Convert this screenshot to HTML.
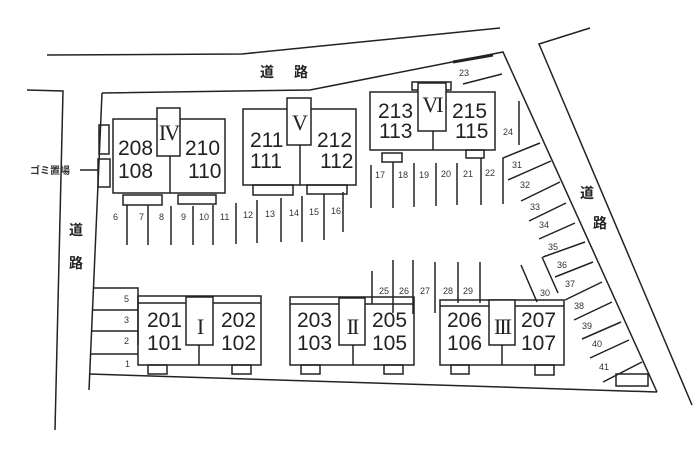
<!DOCTYPE html>
<html><head><meta charset="utf-8"><style>
html,body{margin:0;padding:0;background:#fff;}
svg{display:block;}
.n{font-family:"Liberation Sans",sans-serif;font-size:21px;fill:#222;}
.s{font-family:"Liberation Sans",sans-serif;font-size:9px;fill:#333;}
.r{font-family:"Liberation Serif",serif;font-size:22px;fill:#222;letter-spacing:-2px;}
.j{font-family:"Liberation Sans","Noto Sans CJK JP",sans-serif;font-size:14px;font-weight:bold;fill:#222;}
</style></head><body>
<svg width="700" height="452" viewBox="0 0 700 452" xmlns="http://www.w3.org/2000/svg">
<g fill="none" stroke="#222" stroke-width="1.5">
<polyline points="47,55 242,54 500,28"/>
<polyline points="102,93 310,90 503,52 657,392"/>
<polyline points="27,90 63,91 55,430"/>
<line x1="102" y1="93" x2="89" y2="390"/>
<polyline points="590,28 539,44 692,405"/>
<line x1="89" y1="374" x2="657" y2="392"/>
<line x1="453" y1="62" x2="493" y2="55" stroke-width="3"/>
<rect x="113" y="119" width="112" height="74"/>
<rect x="157" y="108" width="23" height="48" fill="#fff"/>
<line x1="170" y1="156" x2="170" y2="193"/>
<rect x="123" y="195" width="39" height="10"/>
<rect x="178" y="195" width="38" height="9"/>
<rect x="99" y="125" width="10" height="29"/>
<rect x="98" y="159" width="12" height="28"/>
<line x1="80" y1="170" x2="98" y2="170"/>
<rect x="243" y="109" width="113" height="76"/>
<line x1="300" y1="145" x2="300" y2="185"/>
<rect x="287" y="98" width="24" height="47" fill="#fff"/>
<rect x="253" y="185" width="40" height="10"/>
<rect x="307" y="185" width="40" height="9"/>
<rect x="370" y="92" width="125" height="58"/>
<rect x="412" y="82" width="39" height="8"/>
<rect x="418" y="83" width="28" height="48" fill="#fff"/>
<line x1="433" y1="131" x2="433" y2="150"/>
<rect x="382" y="153" width="20" height="9"/>
<rect x="466" y="150" width="18" height="8"/>
<g>
<line x1="127" y1="205" x2="127" y2="245"/><line x1="148" y1="205" x2="148" y2="245"/>
<line x1="171" y1="206" x2="171" y2="245"/><line x1="193" y1="206" x2="193" y2="245"/>
<line x1="213" y1="205" x2="213" y2="245"/><line x1="236" y1="203" x2="236" y2="244"/>
<line x1="257" y1="200" x2="257" y2="243"/><line x1="281" y1="198" x2="281" y2="242"/>
<line x1="302" y1="196" x2="302" y2="242"/><line x1="324" y1="194" x2="324" y2="240"/>
<line x1="343" y1="192" x2="343" y2="232"/>
<line x1="371" y1="165" x2="371" y2="208"/><line x1="393" y1="162" x2="393" y2="208"/>
<line x1="414" y1="163" x2="414" y2="207"/><line x1="436" y1="163" x2="436" y2="206"/>
<line x1="457" y1="163" x2="457" y2="205"/><line x1="481" y1="158" x2="481" y2="205"/>
<polyline points="540,143 503,158 503,204"/>
<line x1="519" y1="101" x2="519" y2="145"/>
<line x1="463" y1="84" x2="502" y2="74"/>
</g>
<line x1="508" y1="180" x2="551" y2="161"/>
<line x1="521" y1="201" x2="560" y2="182"/>
<line x1="529" y1="221" x2="566" y2="203"/>
<line x1="539" y1="239" x2="575" y2="223"/>
<line x1="543" y1="257" x2="585" y2="242"/>
<line x1="542" y1="257" x2="558" y2="293"/>
<line x1="555" y1="277" x2="593" y2="262"/>
<line x1="565" y1="300" x2="602" y2="282"/>
<line x1="574" y1="320" x2="612" y2="302"/>
<line x1="582" y1="339" x2="621" y2="322"/>
<line x1="590" y1="358" x2="629" y2="340"/>
<line x1="603" y1="382" x2="642" y2="362"/>
<rect x="616" y="374" width="32" height="12"/>
<line x1="521" y1="265" x2="537" y2="302"/>
<line x1="372" y1="271" x2="372" y2="304"/>
<line x1="393" y1="260" x2="393" y2="313"/>
<line x1="413" y1="260" x2="413" y2="314"/>
<line x1="435" y1="262" x2="435" y2="313"/>
<line x1="458" y1="262" x2="458" y2="303"/>
<line x1="480" y1="262" x2="480" y2="303"/>
<polyline points="93,288 138,288 138,345"/>
<line x1="92" y1="310" x2="138" y2="310"/>
<line x1="91" y1="331" x2="138" y2="331"/>
<line x1="90" y1="354" x2="138" y2="354"/>
<rect x="138" y="296" width="123" height="69"/>
<line x1="138" y1="303" x2="261" y2="303"/>
<rect x="186" y="297" width="27" height="48" fill="#fff"/>
<line x1="199" y1="345" x2="199" y2="365"/>
<rect x="148" y="365" width="19" height="9"/>
<rect x="232" y="365" width="19" height="9"/>
<rect x="290" y="297" width="124" height="68"/>
<line x1="290" y1="304" x2="414" y2="304"/>
<rect x="339" y="298" width="26" height="47" fill="#fff"/>
<line x1="353" y1="345" x2="353" y2="365"/>
<rect x="301" y="365" width="19" height="9"/>
<rect x="384" y="365" width="19" height="9"/>
<rect x="440" y="300" width="124" height="65"/>
<line x1="440" y1="306" x2="564" y2="306"/>
<rect x="489" y="300" width="26" height="45" fill="#fff"/>
<line x1="502" y1="345" x2="502" y2="365"/>
<rect x="451" y="365" width="18" height="9"/>
<rect x="535" y="365" width="19" height="10"/>
</g>
<text class="n" x="118" y="155">208</text><text class="n" x="118" y="178">108</text>
<text class="n" x="185" y="155">210</text><text class="n" x="188" y="178">110</text>
<text class="n" x="250" y="147">211</text><text class="n" x="250" y="168">111</text>
<text class="n" x="317" y="147">212</text><text class="n" x="320" y="168">112</text>
<text class="n" x="378" y="118">213</text><text class="n" x="379" y="138">113</text>
<text class="n" x="452" y="118">215</text><text class="n" x="455" y="138">115</text>
<text class="n" x="147" y="327">201</text><text class="n" x="147" y="350">101</text>
<text class="n" x="221" y="327">202</text><text class="n" x="221" y="350">102</text>
<text class="n" x="297" y="327">203</text><text class="n" x="297" y="350">103</text>
<text class="n" x="372" y="327">205</text><text class="n" x="372" y="350">105</text>
<text class="n" x="447" y="327">206</text><text class="n" x="447" y="350">106</text>
<text class="n" x="521" y="327">207</text><text class="n" x="521" y="350">107</text>
<text class="r" x="168.5" y="140" text-anchor="middle">IV</text>
<text class="r" x="299" y="130" text-anchor="middle">V</text>
<text class="r" x="432" y="112" text-anchor="middle">VI</text>
<text class="r" x="199.5" y="334" text-anchor="middle">I</text>
<text class="r" x="352" y="334" text-anchor="middle">II</text>
<text class="r" x="502" y="334" text-anchor="middle">III</text>
<g class="s">
<text x="113" y="220">6</text><text x="139" y="220">7</text><text x="159" y="220">8</text>
<text x="181" y="220">9</text><text x="199" y="220">10</text><text x="220" y="220">11</text>
<text x="243" y="218">12</text><text x="265" y="217">13</text><text x="289" y="216">14</text>
<text x="309" y="215">15</text><text x="331" y="214">16</text>
<text x="375" y="178">17</text><text x="398" y="178">18</text><text x="419" y="178">19</text>
<text x="441" y="177">20</text><text x="463" y="177">21</text><text x="485" y="176">22</text>
<text x="459" y="76">23</text><text x="503" y="135">24</text>
<text x="512" y="168">31</text><text x="520" y="188">32</text><text x="530" y="210">33</text>
<text x="539" y="228">34</text><text x="548" y="250">35</text><text x="557" y="268">36</text>
<text x="565" y="287">37</text><text x="574" y="309">38</text><text x="582" y="329">39</text>
<text x="592" y="347">40</text><text x="599" y="370">41</text>
<text x="540" y="296">30</text>
<text x="379" y="294">25</text><text x="399" y="294">26</text><text x="420" y="294">27</text>
<text x="443" y="294">28</text><text x="463" y="294">29</text>
<text x="124" y="302">5</text><text x="124" y="323">3</text><text x="124" y="344">2</text><text x="125" y="367">1</text>
</g>
<text x="30" y="174" style="font-family:'Liberation Sans','Noto Sans CJK JP',sans-serif;font-size:10px;font-weight:bold;fill:#333">ゴミ置場</text>
<text class="j" x="260" y="77">道</text><text class="j" x="294" y="77">路</text>
<text class="j" x="69" y="235">道</text><text class="j" x="69" y="268">路</text>
<text class="j" x="580" y="198">道</text><text class="j" x="593" y="228">路</text>
</svg>
</body></html>
